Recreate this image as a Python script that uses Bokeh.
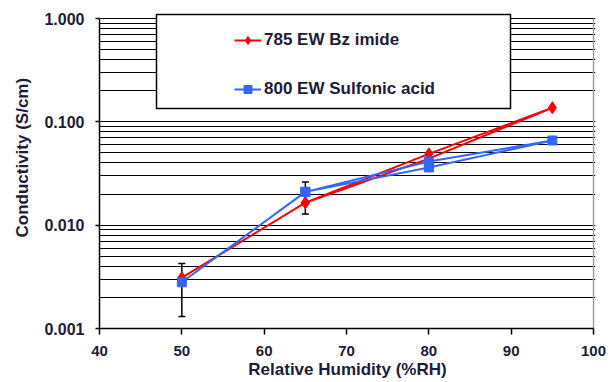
import math
from bokeh.plotting import figure
from bokeh.models import (FixedTicker, PrintfTickFormatter, Whisker, ColumnDataSource,
                          Legend, LegendItem, BoxAnnotation, Title, TeeHead)
from bokeh.embed import file_html
from bokeh.resources import INLINE

# ---- data ----
rh_imide = [50, 65, 80, 95, 80, 65]
cond_imide = [0.0031, 0.0165, 0.049, 0.137, 0.044, 0.0165]
rh_sulf = [50, 65, 80, 95, 80, 65]
cond_sulf = [0.0028, 0.021, 0.0414, 0.066, 0.0362, 0.021]

err_imide_rh = [65]
err_imide_val = [0.0165]
err_imide_dev = [0.0037]
err_sulf_rh = [50, 65]
err_sulf_val = [0.00278, 0.021]
err_sulf_dev = [0.00147, 0.0051]

x_ticks = [40, 50, 60, 70, 80, 90, 100]
y_major = [0.001, 0.01, 0.1, 1.0]
y_minor = [k * d for d in [0.001, 0.01, 0.1] for k in range(2, 10)]

label_imide = "785 EW Bz imide"
label_sulf = "800 EW Sulfonic acid"
x_title = "Relative Humidity (%RH)"
y_title = "Conductivity (S/cm)"

FONT = "Liberation Sans"
TXT = "#1c1c3a"
RED = "#FF0000"
BLUE = "#3366FF"

x_lo, x_hi = x_ticks[0], x_ticks[-1]
y_lo, y_hi = y_major[0], y_major[-1]

# a little room above 1.000 and right of 100 so the legend box / border are not clipped
p = figure(width=616, height=382, y_axis_type="log",
           x_range=(x_lo, x_hi + 0.24), y_range=(y_lo, y_hi * 10 ** (6 / 103.3)),
           output_backend="svg", toolbar_location=None,
           min_border_left=98, min_border_right=21, min_border_top=12, min_border_bottom=54)
p.background_fill_color = "white"
p.border_fill_color = "white"
p.outline_line_color = None

# axes
p.xaxis.ticker = FixedTicker(ticks=x_ticks)
p.yaxis.ticker = FixedTicker(ticks=y_major, minor_ticks=y_minor)
p.yaxis.formatter = PrintfTickFormatter(format="%.3f")
p.xaxis.bounds = (x_lo, x_hi)
p.yaxis.bounds = (y_lo, y_hi)
for ax in (p.xaxis[0], p.yaxis[0]):
    ax.axis_line_color = "black"
    ax.axis_line_width = 1.5
    ax.major_tick_line_color = "black"
    ax.major_tick_line_width = 1.5
    ax.major_tick_in = 0
    ax.minor_tick_line_color = None
    ax.major_label_text_font = FONT
    ax.major_label_text_font_style = "bold"
    ax.major_label_text_color = TXT
p.xaxis.major_label_text_font_size = "15px"
p.yaxis.major_label_text_font_size = "16px"
p.xaxis.major_tick_out = 6
p.xaxis.major_label_standoff = 11
p.yaxis.major_tick_out = 4
p.yaxis.major_label_standoff = 11

p.xaxis.axis_label = x_title
p.xaxis.axis_label_text_font = FONT
p.xaxis.axis_label_text_font_style = "bold"
p.xaxis.axis_label_text_font_size = "17px"
p.xaxis.axis_label_text_color = TXT
p.xaxis.axis_label_standoff = 1

# grid
p.xgrid.grid_line_color = None
p.ygrid.grid_line_color = "black"
p.ygrid.grid_line_width = 1.2
p.ygrid.minor_grid_line_color = "black"
p.ygrid.minor_grid_line_width = 1.2

# right border of the plot area
p.segment(x0=[x_hi], y0=[y_lo], x1=[x_hi], y1=[y_hi], line_color="#A0A0A0", line_width=1.5)

# error bars
src_ei = ColumnDataSource(dict(x=err_imide_rh,
                               lo=[v - d for v, d in zip(err_imide_val, err_imide_dev)],
                               hi=[v + d for v, d in zip(err_imide_val, err_imide_dev)]))
src_es = ColumnDataSource(dict(x=err_sulf_rh,
                               lo=[v - d for v, d in zip(err_sulf_val, err_sulf_dev)],
                               hi=[v + d for v, d in zip(err_sulf_val, err_sulf_dev)]))
for s in (src_ei, src_es):
    w = Whisker(base="x", lower="lo", upper="hi", source=s, line_color="black", line_width=1.5,
                upper_head=TeeHead(size=7, line_color="black", line_width=1.5),
                lower_head=TeeHead(size=7, line_color="black", line_width=1.5))
    p.add_layout(w)

# series
r_line = p.line(rh_imide, cond_imide, line_color=RED, line_width=2)
r_pts = p.scatter(rh_imide, cond_imide, marker="diamond", size=12, fill_color=RED, line_color=RED)
b_line = p.line(rh_sulf, cond_sulf, line_color=BLUE, line_width=2)
b_pts = p.scatter(rh_sulf, cond_sulf, marker="square", size=9, fill_color=BLUE, line_color=BLUE)

# legend box
box = BoxAnnotation(left=57, right=411, top=314, bottom=220,
                    left_units="screen", right_units="screen", top_units="screen", bottom_units="screen",
                    fill_color="white", fill_alpha=1.0, line_color="black", line_width=1.5, line_alpha=1.0)
p.add_layout(box)

legend = Legend(items=[LegendItem(label=label_imide, renderers=[r_line, r_pts]),
                       LegendItem(label=label_sulf, renderers=[b_line, b_pts])],
                location=(135, 229), padding=0, margin=0, spacing=29,
                glyph_width=27, glyph_height=20, label_height=20, label_standoff=3,
                border_line_color=None, background_fill_alpha=0,
                label_text_font=FONT, label_text_font_style="bold", label_text_font_size="17px",
                label_text_color=TXT)
p.add_layout(legend, "center")

# y title (placed a bit above the frame centre, as in the original)
p.add_layout(Title(text=y_title, align="left", offset=91, standoff=20,
                   text_font=FONT, text_font_style="bold", text_font_size="17px",
                   text_color=TXT), "left")

open("out.html", "w").write(file_html(p, INLINE))
